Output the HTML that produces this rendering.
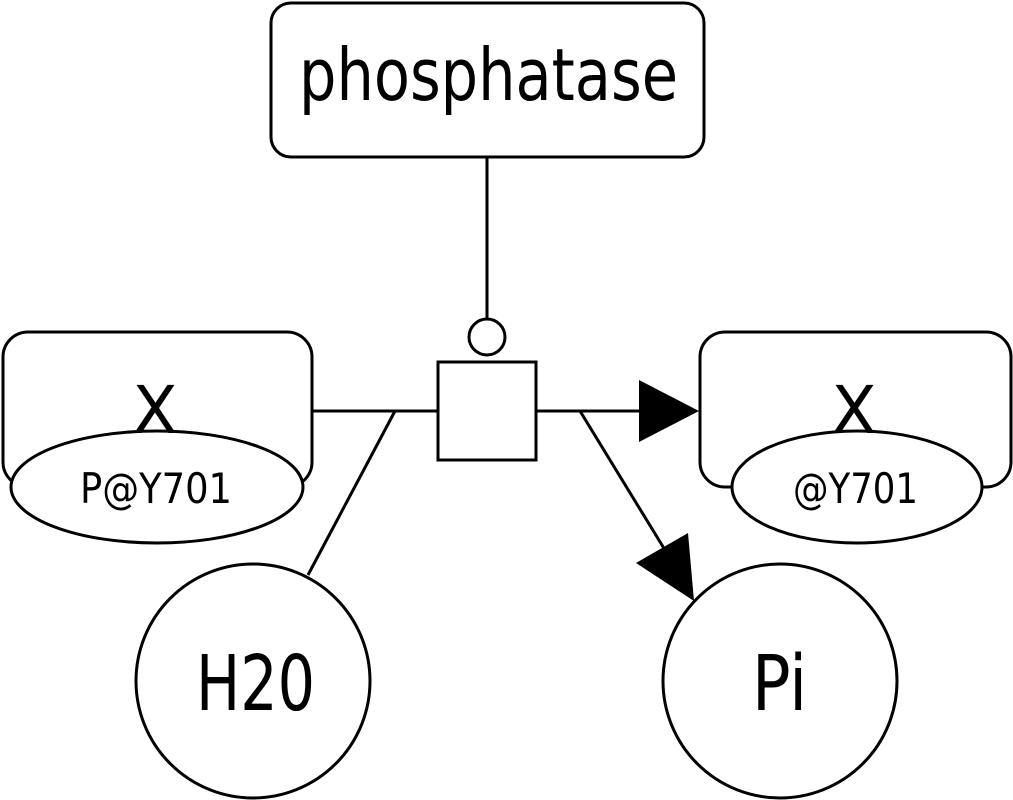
<!DOCTYPE html>
<html><head><meta charset="utf-8"><style>
html,body{margin:0;padding:0;background:#fff;}
svg{display:block;}
text{font-family:"DejaVu Sans","Liberation Sans",sans-serif;fill:#000;}
</style></head><body>
<svg width="1013" height="800" viewBox="0 0 1013 800">
<g fill="#fff" stroke="#000" stroke-width="3">
  <rect x="271" y="3" width="433" height="154" rx="20"/>
  <line x1="487" y1="157" x2="487" y2="318"/>
  <circle cx="487" cy="337" r="18"/>
  <rect x="438" y="362" width="98" height="98"/>
  <line x1="312" y1="411" x2="438" y2="411"/>
  <line x1="395" y1="411" x2="308" y2="575"/>
  <line x1="536" y1="411" x2="642" y2="411"/>
  <line x1="580" y1="411" x2="665" y2="550"/>
  <rect x="3" y="332" width="309" height="155" rx="25"/>
  <ellipse cx="157" cy="487" rx="146" ry="56"/>
  <rect x="700" y="332" width="311" height="155" rx="25"/>
  <ellipse cx="857" cy="487" rx="125" ry="56"/>
  <circle cx="253" cy="681" r="117"/>
  <circle cx="780" cy="681" r="117"/>
</g>
<polygon points="639,380 699,411 639,442" fill="#000"/>
<polygon points="636,563 688,533 694,601" fill="#000"/>
<text x="299" y="100" font-size="72" textLength="379" lengthAdjust="spacingAndGlyphs">phosphatase</text>
<text x="155" y="433" font-size="66" text-anchor="middle">X</text>
<text x="80" y="503" font-size="42" textLength="152" lengthAdjust="spacingAndGlyphs">P@Y701</text>
<text x="854" y="433" font-size="66" text-anchor="middle">X</text>
<text x="793" y="503" font-size="42" textLength="125" lengthAdjust="spacingAndGlyphs">@Y701</text>
<text x="196" y="710" font-size="77" textLength="119" lengthAdjust="spacingAndGlyphs">H20</text>
<text x="752" y="710" font-size="77" textLength="55" lengthAdjust="spacingAndGlyphs">Pi</text>
</svg>
</body></html>
